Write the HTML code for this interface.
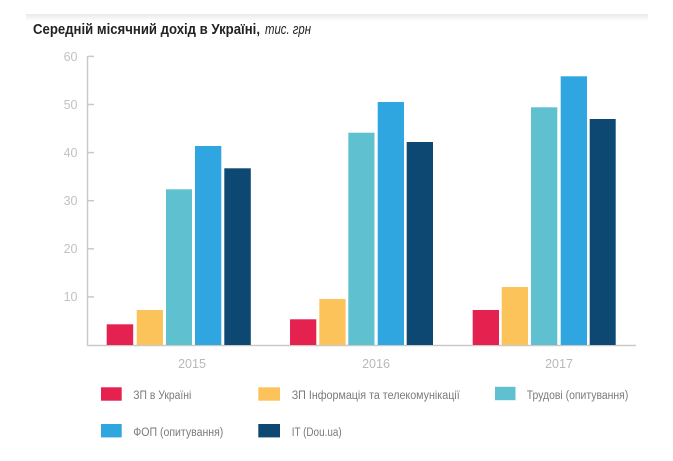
<!DOCTYPE html>
<html>
<head>
<meta charset="utf-8">
<style>
  html,body{margin:0;padding:0;background:#fff;}
  body{width:673px;height:461px;overflow:hidden;}
  svg{display:block;}
  text{font-family:"Liberation Sans","DejaVu Sans",sans-serif;}
</style>
</head>
<body>
<svg width="673" height="461" viewBox="0 0 673 461" xmlns="http://www.w3.org/2000/svg">
  <defs>
    <linearGradient id="band" x1="0" y1="0" x2="0" y2="1">
      <stop offset="0" stop-color="#e9e9e9"/>
      <stop offset="1" stop-color="#ffffff"/>
    </linearGradient>
  </defs>
  <rect x="26" y="14" width="622" height="7" fill="url(#band)"/>

  <!-- Title -->
  <text x="33" y="34" font-size="14.5" font-weight="bold" fill="#222" textLength="227" lengthAdjust="spacingAndGlyphs">Середній місячний дохід в Україні,</text>
  <text x="265" y="34" font-size="14.5" font-style="italic" fill="#222" textLength="46" lengthAdjust="spacingAndGlyphs">тис. грн</text>

  <!-- Y axis labels -->
  <g font-size="12.5" fill="#c2c2c2" text-anchor="end">
    <text x="77.5" y="61">60</text>
    <text x="77.5" y="109">50</text>
    <text x="77.5" y="157">40</text>
    <text x="77.5" y="205">30</text>
    <text x="77.5" y="253">20</text>
    <text x="77.5" y="301">10</text>
  </g>

  <!-- Axes -->
  <g stroke="#c9c9c9" stroke-width="1.5" fill="none">
    <line x1="87.5" y1="56" x2="87.5" y2="345.5"/>
    <line x1="87" y1="345.5" x2="636" y2="345.5"/>
    <line x1="87.5" y1="56.4" x2="94" y2="56.4"/>
    <line x1="87.5" y1="104.5" x2="94" y2="104.5"/>
    <line x1="87.5" y1="152.6" x2="94" y2="152.6"/>
    <line x1="87.5" y1="200.7" x2="94" y2="200.7"/>
    <line x1="87.5" y1="248.8" x2="94" y2="248.8"/>
    <line x1="87.5" y1="296.9" x2="94" y2="296.9"/>
  </g>

  <!-- Bars 2015 -->
  <g>
    <rect x="106.7" y="324.3" width="26.5" height="20.7" fill="#e5214f"/>
    <rect x="136.7" y="310" width="26.3" height="35" fill="#fdc35b"/>
    <rect x="166" y="189.3" width="26" height="155.7" fill="#5fc1d0"/>
    <rect x="195" y="146" width="26.3" height="199" fill="#2fa6e0"/>
    <rect x="224.3" y="168.3" width="26.5" height="176.7" fill="#0d4873"/>
  </g>
  <!-- Bars 2016 -->
  <g>
    <rect x="290" y="319.3" width="26.3" height="25.7" fill="#e5214f"/>
    <rect x="319.3" y="299" width="26.3" height="46" fill="#fdc35b"/>
    <rect x="348.3" y="132.7" width="26.2" height="212.3" fill="#5fc1d0"/>
    <rect x="377.7" y="102" width="26.3" height="243" fill="#2fa6e0"/>
    <rect x="406.7" y="142" width="26.3" height="203" fill="#0d4873"/>
  </g>
  <!-- Bars 2017 -->
  <g>
    <rect x="472.7" y="310" width="26.3" height="35" fill="#e5214f"/>
    <rect x="501.7" y="287" width="26.3" height="58" fill="#fdc35b"/>
    <rect x="531" y="107.3" width="26.3" height="237.7" fill="#5fc1d0"/>
    <rect x="560.7" y="76.3" width="26.3" height="268.7" fill="#2fa6e0"/>
    <rect x="589.7" y="119" width="26" height="226" fill="#0d4873"/>
  </g>

  <!-- X labels -->
  <g font-size="12.5" fill="#b9b9b9" text-anchor="middle">
    <text x="192" y="368">2015</text>
    <text x="376" y="368">2016</text>
    <text x="559" y="368">2017</text>
  </g>

  <!-- Legend -->
  <g font-size="11.5" fill="#7a7a7a">
    <rect x="101" y="387.3" width="20.7" height="13.4" fill="#e5214f"/>
    <text x="133.3" y="399" textLength="58" lengthAdjust="spacingAndGlyphs">ЗП в Україні</text>

    <rect x="258.3" y="387.3" width="21.7" height="13.4" fill="#fdc35b"/>
    <text x="291.7" y="399" textLength="168" lengthAdjust="spacingAndGlyphs">ЗП Інформація та телекомунікації</text>

    <rect x="495" y="386.8" width="20.5" height="13.4" fill="#5fc1d0"/>
    <text x="526.7" y="399" textLength="101.6" lengthAdjust="spacingAndGlyphs">Трудові (опитування)</text>

    <rect x="101" y="424" width="20.7" height="13.4" fill="#2fa6e0"/>
    <text x="133.3" y="436" textLength="90" lengthAdjust="spacingAndGlyphs">ФОП (опитування)</text>

    <rect x="258.3" y="424" width="21.7" height="13.4" fill="#0d4873"/>
    <text x="291.7" y="436" textLength="50" lengthAdjust="spacingAndGlyphs">IT (Dou.ua)</text>
  </g>
</svg>
</body>
</html>
